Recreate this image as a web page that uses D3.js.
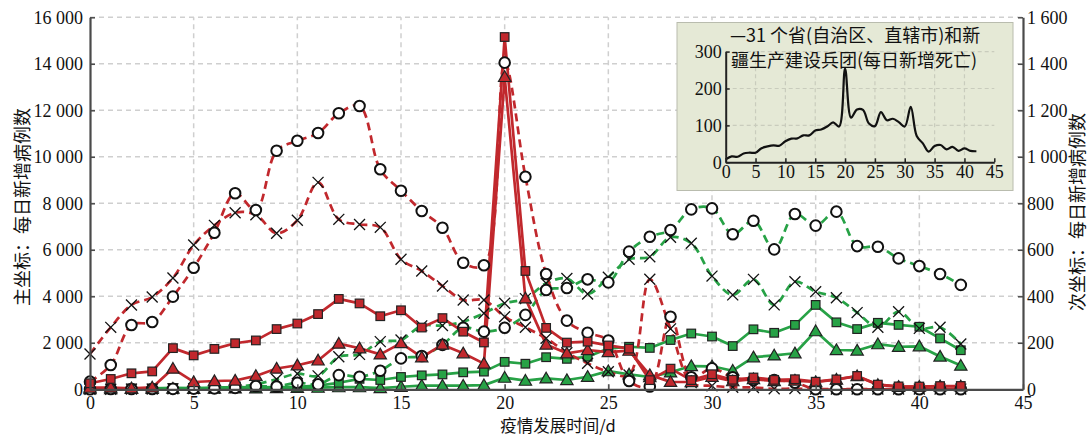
<!DOCTYPE html>
<html><head><meta charset="utf-8">
<script src="https://cdn.jsdelivr.net/npm/d3@7"></script>
<style>
body{margin:0;background:#fff;}
svg{display:block;}
</style></head><body>
<svg id="c" width="1089" height="437"></svg>
<script>
// ---- data ----
const day = [0,1,2,3,4,5,6,7,8,9,10,11,12,13,14,15,16,17,18,19,20,21,22,23,24,25,26,27,28,29,30,31,32,33,34,35,36,37,38,39,40,41,42];

// primary axis (red)
const redSquare = [260,444,688,769,1771,1459,1737,1982,2102,2590,2829,3235,3887,3694,3143,3399,2656,3062,2478,2015,15152,5090,2641,2009,2048,1886,1749,394,889,397,648,409,508,406,433,327,427,573,202,125,119,139,143];
const redTriangle = [70,77,46,80,892,315,356,378,576,894,1033,1242,1967,1766,1501,1985,1379,1921,1552,1104,13436,3910,1923,1548,1690,1600,1660,615,319,314,541,348,439,356,377,313,420,565,193,111,114,131,126];
const redCircle = [330,1045,2765,2894,3985,5230,6735,8430,7710,10260,10690,11025,11870,12185,9462,8542,7669,6951,5445,5333,14050,9145,4960,2952,2435,2100,360,120,3120,516,900,516,400,400,285,0,0,0,0,0,0,0,0];
const redCross = [1518,2666,3626,3970,4787,6206,7053,7596,7510,6710,7270,8900,7310,7090,6967,5591,5088,4443,3840,3840,3123,2667,2193,1574,1118,757,615,4731,2600,285,150,90,80,20,30,10,10,10,10,10,10,10,10];

// secondary axis (green)
const greenSquare = [3,2,4,4,6,5,7,9,8,10,11,16,28,45,40,53,60,64,73,76,118,110,138,131,140,175,183,178,212,240,227,186,258,243,277,363,288,259,286,277,269,219,168];
const greenTriangle = [1,1,2,2,3,2,3,4,4,5,6,7,9,9,5,11,16,16,16,18,50,37,47,40,54,78,64,53,73,100,99,80,138,146,155,250,169,167,194,183,185,141,102];
const greenCircle = [0,1,1,1,2,3,4,6,14,12,28,21,61,54,80,133,143,191,265,248,265,320,427,436,473,460,592,656,685,774,778,667,725,602,754,704,764,616,613,563,530,496,449];
const greenCross = [0,0,1,1,2,3,5,9,22,43,67,58,140,150,205,212,273,274,291,327,370,390,456,477,410,482,559,570,654,628,487,406,473,363,463,420,394,330,267,334,262,267,195];

// inset: daily new deaths
const deaths = [8,16,15,24,26,26,38,43,46,45,57,64,65,73,73,86,89,97,108,97,254,121,143,142,105,98,136,114,118,109,97,150,71,52,29,44,47,35,42,31,38,31,30];

const xTicks = [0,5,10,15,20,25,30,35,40,45];
const leftTicks = [0,2000,4000,6000,8000,10000,12000,14000,16000];
const rightTicks = [0,200,400,600,800,1000,1200,1400,1600];
const insetYTicks = [0,100,200,300];
const insetXTicks = [0,5,10,15,20,25,30,35,40,45];

const leftTitle = "主坐标：每日新增病例数";
const rightTitle = "次坐标：每日新增病例数";
const xTitle = "疫情发展时间/d";
const insetLegend = ["—31 个省(自治区、直辖市)和新", "疆生产建设兵团(每日新增死亡)"];

// ---- drawing ----
const RED = "#c1282d", GREEN = "#27a246";
const svg = d3.select("#c");
const serif = "'Liberation Serif','Times New Roman',serif";
const cjk = "'Noto Sans CJK SC','Noto Sans',sans-serif";

const x = d3.scaleLinear([0,45],[90,1023]);
const yL = d3.scaleLinear([0,16000],[389.3,17.3]);
const yR = d3.scaleLinear([0,1600],[389.3,17.3]);
const fmt = d3.formatLocale({thousands:" ", grouping:[3], decimal:".", currency:["",""]}).format(",");

// grid
const grid = svg.append("g").attr("stroke","#cfcfcf").attr("stroke-width",1.5).attr("stroke-dasharray","5,4");
xTicks.filter(t=>t>0&&t<45).forEach(t=>grid.append("line").attr("x1",x(t)).attr("x2",x(t)).attr("y1",yL(0)).attr("y2",yL(16000)));
leftTicks.filter(t=>t>0).forEach(t=>grid.append("line").attr("x1",x(0)).attr("x2",x(45)).attr("y1",yL(t)).attr("y2",yL(t)));

// lines
const series = [
  {v:greenTriangle, s:yR, c:GREEN, dash:false, m:"tri"},
  {v:greenSquare, s:yR, c:GREEN, dash:false, m:"sq"},
  {v:greenCross, s:yR, c:GREEN, dash:true, m:"x"},
  {v:greenCircle, s:yR, c:GREEN, dash:true, m:"o"},
  {v:redCross, s:yL, c:RED, dash:true, m:"x"},
  {v:redCircle, s:yL, c:RED, dash:true, m:"o"},
  {v:redTriangle, s:yL, c:RED, dash:false, m:"tri"},
  {v:redSquare, s:yL, c:RED, dash:false, m:"sq"}
];
svg.append("clipPath").attr("id","pc").append("rect").attr("x",88).attr("y",10).attr("width",940).attr("height",381);
const lg = svg.append("g").attr("clip-path","url(#pc)");
series.forEach(sr=>{
  const line = d3.line().x((d,i)=>x(day[i])).y(d=>sr.s(d))
    .curve(sr.dash ? d3.curveCatmullRom.alpha(0.5) : d3.curveLinear);
  lg.append("path").attr("d",line(sr.v)).attr("fill","none").attr("stroke",sr.c)
    .attr("stroke-width",2.7).attr("stroke-linejoin","round")
    .attr("stroke-dasharray", sr.dash ? "8,5" : null);
});
const mg = svg.append("g");
series.forEach(sr=>{
  sr.v.forEach((d,i)=>{
    const cx = x(day[i]), cy = sr.s(d);
    if (sr.m==="sq") mg.append("rect").attr("x",cx-4.3).attr("y",cy-4.3).attr("width",8.6).attr("height",8.6)
        .attr("fill",sr.c).attr("stroke","#222").attr("stroke-width",1.2);
    else if (sr.m==="tri") mg.append("path").attr("d",d3.symbol(d3.symbolTriangle,66)()).attr("transform",`translate(${cx},${cy+1})`)
        .attr("fill",sr.c).attr("stroke","#222").attr("stroke-width",1.2);
    else if (sr.m==="o") mg.append("circle").attr("cx",cx).attr("cy",cy).attr("r",5.3)
        .attr("fill","#fff").attr("stroke","#111").attr("stroke-width",2);
    else mg.append("path").attr("d",d3.symbol(d3.symbolTimes,80)()).attr("transform",`translate(${cx},${cy})`)
        .attr("fill","#111").attr("stroke","#111").attr("stroke-width",1.3);
  });
});

// axes
function styleAxis(g){
  g.select(".domain").attr("stroke","#4a4a4a").attr("stroke-width",2.2);
  g.selectAll(".tick line").attr("stroke","#4a4a4a").attr("stroke-width",1.5);
  g.selectAll("text").attr("font-family",serif).attr("font-size",18).attr("fill","#111");
}
svg.append("g").attr("transform",`translate(${x(0)},0)`)
  .call(d3.axisLeft(yL).tickValues(leftTicks).tickFormat(fmt).tickSize(-5).tickSizeOuter(0).tickPadding(7))
  .call(styleAxis);
svg.append("g").attr("transform",`translate(${x(45)},0)`)
  .call(d3.axisRight(yR).tickValues(rightTicks).tickFormat(fmt).tickSize(-5).tickSizeOuter(0).tickPadding(4))
  .call(styleAxis);
svg.append("g").attr("transform",`translate(0,${yL(0)})`)
  .call(d3.axisBottom(x).tickValues(xTicks).tickFormat(d3.format("d")).tickSize(-5).tickSizeOuter(0).tickPadding(7))
  .call(styleAxis);

// titles
svg.append("text").attr("x",558).attr("y",431.5).attr("text-anchor","middle")
  .attr("font-family",cjk).attr("font-size",16.5).attr("fill","#111").text(xTitle);
svg.append("text").attr("transform","translate(21,207) rotate(-90)").attr("text-anchor","middle")
  .attr("dominant-baseline","central").attr("font-family",cjk).attr("font-size",18).attr("fill","#111").text(leftTitle);
svg.append("text").attr("transform","translate(1076,212) rotate(-90)").attr("text-anchor","middle")
  .attr("dominant-baseline","central").attr("font-family",cjk).attr("font-size",18).attr("fill","#111").text(rightTitle);

// inset
const ig = svg.append("g");
ig.append("rect").attr("x",677).attr("y",22.5).attr("width",336).attr("height",168)
  .attr("fill","#e5e9d6").attr("stroke","#b9bcae").attr("stroke-width",1);
const ix = d3.scaleLinear([0,45],[725.7,994.3]);
const iy = d3.scaleLinear([0,300],[162.3,51.6]);
const igrid = ig.append("g").attr("stroke","#c9ccbd").attr("stroke-width",1.2).attr("stroke-dasharray","4,3");
insetXTicks.filter(t=>t>0&&t<45).forEach(t=>igrid.append("line").attr("x1",ix(t)).attr("x2",ix(t)).attr("y1",iy(0)).attr("y2",iy(300)));
insetYTicks.filter(t=>t>0).forEach(t=>igrid.append("line").attr("x1",ix(0)).attr("x2",ix(45)).attr("y1",iy(t)).attr("y2",iy(t)));
ig.append("path").attr("d",d3.line().x((d,i)=>ix(day[i])).y(d=>iy(d)).curve(d3.curveCatmullRom.alpha(0.5))(deaths))
  .attr("fill","none").attr("stroke","#111").attr("stroke-width",2.2);
function styleInset(g){
  g.select(".domain").attr("stroke","#222").attr("stroke-width",2);
  g.selectAll(".tick line").attr("stroke","#222").attr("stroke-width",1.5);
  g.selectAll("text").attr("font-family",serif).attr("font-size",18).attr("fill","#111");
}
ig.append("g").attr("transform",`translate(${ix(0)},0)`)
  .call(d3.axisLeft(iy).tickValues(insetYTicks).tickSize(-4).tickSizeOuter(0).tickPadding(4))
  .call(styleInset);
ig.append("g").attr("transform",`translate(0,${iy(0)})`)
  .call(d3.axisBottom(ix).tickValues(insetXTicks).tickSize(-4).tickSizeOuter(0).tickPadding(3))
  .call(styleInset);
ig.append("text").attr("x",730).attr("y",41.5).attr("font-family",cjk).attr("font-size",18).attr("fill","#111").text(insetLegend[0]);
ig.append("text").attr("x",731).attr("y",66.5).attr("font-family",cjk).attr("font-size",18).attr("fill","#111").text(insetLegend[1]);
</script>
</body></html>
